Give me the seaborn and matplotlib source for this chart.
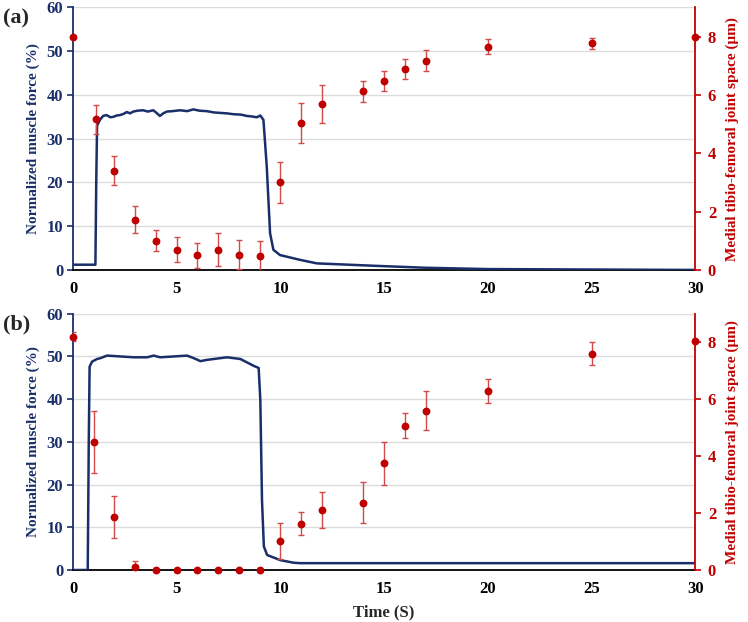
import numpy as np
import pandas as pd
import matplotlib
matplotlib.use("Agg")
import matplotlib.pyplot as plt
import seaborn as sns

# ---- data ----
# muscle force traces (time s, % normalized force)
force_a_t = [0, 1.08, 1.12, 1.16, 1.3, 1.45, 1.62, 1.8, 1.95, 2.1, 2.27, 2.45, 2.59, 2.75, 2.91,
             3.1, 3.39, 3.6, 3.87, 4.0, 4.19, 4.35, 4.52, 4.8, 5.16, 5.5, 5.8, 6.1, 6.45, 6.8,
             7.09, 7.4, 7.74, 8.1, 8.38, 8.6, 8.86, 9.03, 9.18, 9.34, 9.5, 9.66, 9.98,
             10.95, 11.76, 14.8, 17.0, 20.0, 25.0, 30.0]
force_a_v = [1.2, 1.2, 20.0, 33.0, 34.3, 35.2, 35.4, 34.9, 35.0, 35.3, 35.4, 35.7, 36.1, 35.8, 36.2,
             36.4, 36.5, 36.2, 36.5, 36.0, 35.2, 35.8, 36.2, 36.3, 36.5, 36.3, 36.7, 36.4, 36.3, 36.0,
             35.9, 35.8, 35.6, 35.5, 35.2, 35.1, 34.9, 35.3, 34.3, 23.6, 8.4, 4.6, 3.4,
             2.3, 1.5, 0.9, 0.5, 0.2, 0.1, 0.0]

force_b_t = [0, 0.71, 0.76, 0.8, 0.92, 1.16, 1.32, 1.64, 2.28, 2.93, 3.57, 3.89, 4.2, 4.86,
             5.5, 5.82, 6.14, 6.46, 7.1, 7.43, 8.07, 8.39, 8.71, 8.95, 9.03, 9.11, 9.2,
             9.36, 10.0, 10.64, 10.96, 15.0, 20.0, 25.0, 30.0]
force_b_v = [0.0, 0.0, 30.0, 47.6, 48.8, 49.4, 49.6, 50.2, 50.0, 49.8, 49.8, 50.2, 49.8, 50.0,
             50.2, 49.6, 48.9, 49.2, 49.6, 49.8, 49.4, 48.6, 47.8, 47.3, 39.8, 16.4, 5.5,
             3.5, 2.3, 1.7, 1.6, 1.6, 1.6, 1.6, 1.6]

# joint space measurements (time s, mean µm, error µm)
space_a_t = [0, 1.1, 2, 3, 4, 5, 6, 7, 8, 9, 10, 11, 12, 14, 15, 16, 17, 20, 25, 30]
space_a_v = [8.0, 5.16, 3.4, 1.72, 1.0, 0.7, 0.5, 0.7, 0.52, 0.48, 3.0, 5.04, 5.7, 6.12,
             6.48, 6.89, 7.18, 7.65, 7.77, 8.0]
space_a_e = [0.0, 0.5, 0.5, 0.47, 0.36, 0.44, 0.43, 0.58, 0.5, 0.5, 0.7, 0.69, 0.65, 0.36,
             0.34, 0.33, 0.36, 0.26, 0.19, 0.0]

space_b_t = [0, 1, 2, 3, 4, 5, 6, 7, 8, 9, 10, 11, 12, 14, 15, 16, 17, 20, 25, 30]
space_b_v = [8.2, 4.5, 1.87, 0.12, 0, 0, 0, 0, 0, 0, 1.02, 1.62, 2.1, 2.37,
             3.75, 5.06, 5.6, 6.29, 7.6, 8.05]
space_b_e = [0.15, 1.1, 0.73, 0.2, 0, 0, 0, 0, 0, 0, 0.64, 0.4, 0.64, 0.73,
             0.76, 0.44, 0.7, 0.43, 0.4, 0.08]

xticks = [0, 5, 10, 15, 20, 25, 30]
left_ticks = [0, 10, 20, 30, 40, 50, 60]
right_ticks = [0, 2, 4, 6, 8]

NAVY = "#1a2f6a"
RED = "#c00000"
ERR = "#d24a4a"

sns.set_style("white")
plt.rcParams["font.family"] = ["Liberation Serif", "DejaVu Serif"]
plt.rcParams["font.weight"] = "bold"

fig = plt.figure(figsize=(7.48, 6.22), dpi=100)
boxes = [[0.0976, 0.566, 0.832, 0.422], [0.0976, 0.0836, 0.832, 0.412]]
panels = [
    ("(a)", force_a_t, force_a_v, space_a_t, space_a_v, space_a_e),
    ("(b)", force_b_t, force_b_v, space_b_t, space_b_v, space_b_e),
]

for box, (tag, ft, fv, st, sv, se) in zip(boxes, panels):
    ax = fig.add_axes(box)
    ax2 = ax.twinx()

    df_force = pd.DataFrame({"t": ft, "force": fv})
    sns.lineplot(data=df_force, x="t", y="force", ax=ax, color=NAVY, lw=1.8, zorder=3)

    ax.set_xlim(0, 30)
    ax.set_ylim(0, 60)
    ax.set_xticks(xticks)
    ax.set_yticks(left_ticks)
    ax.yaxis.grid(True, color="#dcdcdc", lw=1.0)
    ax.set_axisbelow(True)
    ax.set_xlabel("")
    ax.set_ylabel("Normalized muscle force (%)", color=NAVY, fontsize=11,
                  fontweight="bold", labelpad=5)
    ax.tick_params(axis="y", colors=NAVY, labelsize=12, length=4, width=1.2,
                   direction="out", pad=3)
    ax.tick_params(axis="x", colors="black", labelsize=12, length=4, width=1.2,
                   direction="out", pad=4)
    for lab in ax.get_xticklabels() + ax.get_yticklabels():
        lab.set_fontweight("bold")
    ax.spines["top"].set_visible(False)
    ax.spines["right"].set_visible(False)
    ax.spines["left"].set_color(NAVY)
    ax.spines["left"].set_linewidth(1.3)
    ax.spines["bottom"].set_color("black")
    ax.spines["bottom"].set_linewidth(1.3)

    ax2.errorbar(st, sv, yerr=se, fmt="none", ecolor=ERR, elinewidth=1.0,
                 capsize=2.2, capthick=1.0, zorder=4)
    df_space = pd.DataFrame({"t": st, "space": sv})
    sns.scatterplot(data=df_space, x="t", y="space", ax=ax2, color=RED, s=32,
                    edgecolor=RED, linewidth=0, zorder=5, clip_on=False)
    ax2.set_ylim(0, 9)
    ax2.set_yticks(right_ticks)
    ax2.set_xlabel("")
    ax2.set_ylabel("Medial tibio-femoral joint space (μm)", color=RED, fontsize=11,
                   fontweight="bold", labelpad=7)
    ax2.tick_params(axis="y", colors=RED, labelsize=12, length=4, width=1.2,
                    direction="out", pad=5)
    for lab in ax2.get_yticklabels():
        lab.set_fontweight("bold")
    for s in ["top", "left", "bottom"]:
        ax2.spines[s].set_visible(False)
    ax2.spines["right"].set_color(RED)
    ax2.spines["right"].set_linewidth(1.3)

    fig.text(0.004, box[1] + box[3] - 0.018, tag, fontsize=16, fontweight="bold",
             ha="left", va="center")

    if tag == "(b)":
        ax.set_xlabel("Time (S)", fontsize=12, fontweight="bold", labelpad=5)

fig.savefig("out.png", dpi=100)
